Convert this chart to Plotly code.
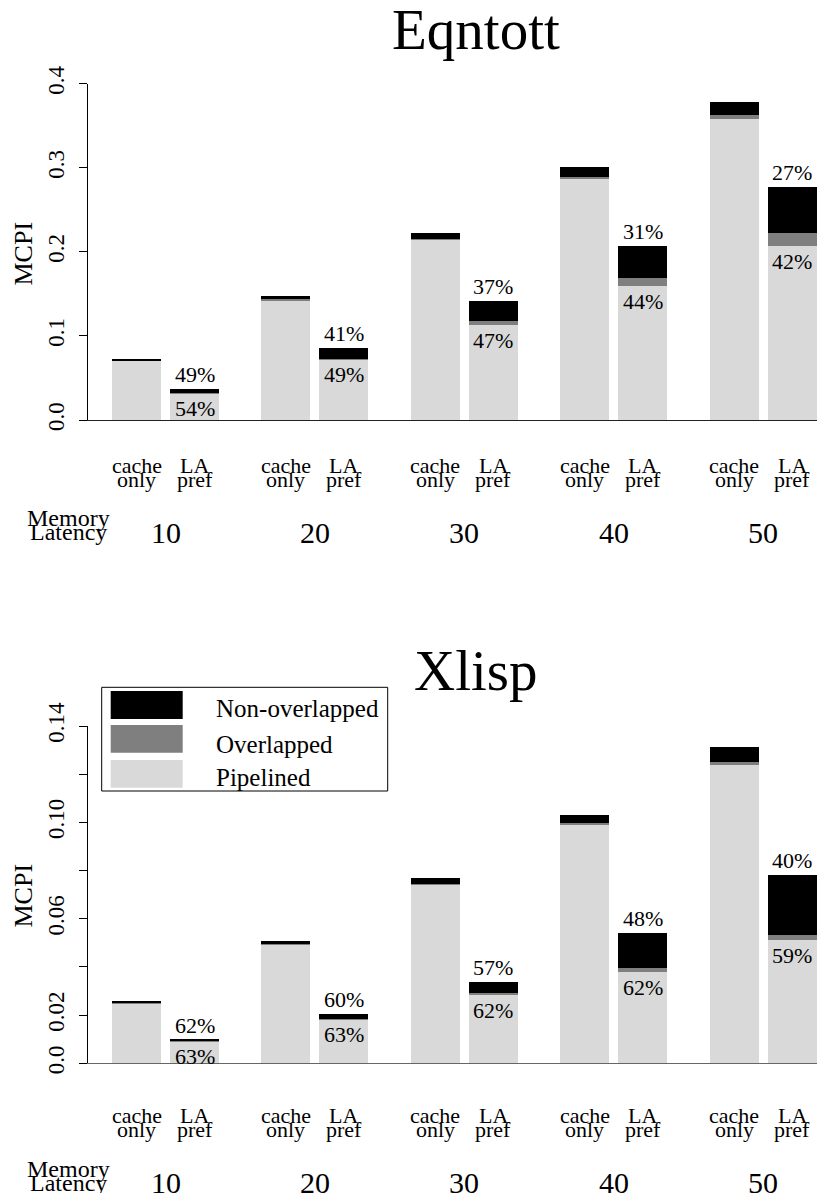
import plotly.graph_objects as go

W, H = 817, 1193
ML = 88          # left margin (px)
PW = W - ML      # plot width (px)
FONT = "Liberation Serif, Times New Roman, serif"

# ---------------- data ----------------
latencies = ["10", "20", "30", "40", "50"]
config_top = ["cache", "LA"]
config_bottom = ["only", "pref"]

# Eqntott
eq_cache_pipe = [0.0714, 0.1430, 0.2150, 0.2866, 0.3580]
eq_cache_over = [0.0003, 0.0007, 0.0005, 0.0028, 0.0048]
eq_cache_non = [0.0012, 0.0038, 0.0073, 0.0115, 0.0154]
eq_la_pipe = [0.0318, 0.0725, 0.1130, 0.1594, 0.2070]
eq_la_over = [0.0008, 0.0005, 0.0048, 0.0095, 0.0154]
eq_la_non = [0.0043, 0.0126, 0.0237, 0.0381, 0.0547]
eq_pct_above = ["49%", "41%", "37%", "31%", "27%"]
eq_pct_below = ["54%", "49%", "47%", "44%", "42%"]

# Xlisp
xl_cache_pipe = [0.0250, 0.0494, 0.0742, 0.0993, 0.1238]
xl_cache_over = [0.0001, 0.0001, 0.0002, 0.0006, 0.0014]
xl_cache_non = [0.0005, 0.0013, 0.0025, 0.0033, 0.0061]
xl_la_pipe = [0.0092, 0.0182, 0.0285, 0.0379, 0.0513]
xl_la_over = [0.0001, 0.0002, 0.0008, 0.0017, 0.0020]
xl_la_non = [0.0005, 0.0022, 0.0044, 0.0145, 0.0248]
xl_pct_above = ["62%", "60%", "57%", "48%", "40%"]
xl_pct_below = ["63%", "63%", "62%", "62%", "59%"]

series_names = ["Pipelined", "Overlapped", "Non-overlapped"]
series_colors = ["#d9d9d9", "#7f7f7f", "#000000"]

# ---------------- layout helpers ----------------
GROUP_STEP = 3.051
PAIR_STEP = 1.184
BAR_W = 1.0
X_RANGE = [-0.99, 13.89]
x_cache = [g * GROUP_STEP for g in range(len(latencies))]
x_la = [g * GROUP_STEP + PAIR_STEP for g in range(len(latencies))]
x_all = x_cache + x_la
x_mid = [(a + b) / 2 for a, b in zip(x_cache, x_la)]


def px(xp):
    return (xp - ML) / PW


def py(yp):
    return 1 - yp / H


fig = go.Figure()
annotations = []
shapes = []

charts = [
    dict(name="Eqntott", xa="x", ya="y",
         pipe=(eq_cache_pipe, eq_la_pipe), over=(eq_cache_over, eq_la_over),
         non=(eq_cache_non, eq_la_non), above=eq_pct_above, below=eq_pct_below,
         axis_px=420.0, top_px=83.7, yrange=[0, 0.4],
         tickvals=[0, 0.1, 0.2, 0.3, 0.4], ticktext=["0.0", "0.1", "0.2", "0.3", "0.4"],
         title_y=30.0, mcpi_y=254.0, lab1=473.0, lab2=487.0, mem1=526.0, mem2=540.5, num=532.0,
         xline="#222222"),
    dict(name="Xlisp", xa="x2", ya="y2",
         pipe=(xl_cache_pipe, xl_la_pipe), over=(xl_cache_over, xl_la_over),
         non=(xl_cache_non, xl_la_non), above=xl_pct_above, below=xl_pct_below,
         axis_px=1063.3, top_px=726.0, yrange=[0, 0.14],
         tickvals=[0, 0.02, 0.04, 0.06, 0.08, 0.10, 0.12, 0.14],
         ticktext=["0.0", "0.02", "", "0.06", "", "0.10", "", "0.14"],
         title_y=670.0, mcpi_y=896.0, lab1=1123.3, lab2=1137.0, mem1=1177.0, mem2=1191.0, num=1182.5,
         xline="#666666"),
]

layout_axes = {}
for ci, c in enumerate(charts):
    vals = [c["pipe"][0] + c["pipe"][1], c["over"][0] + c["over"][1], c["non"][0] + c["non"][1]]
    for name, col, v in zip(series_names, series_colors, vals):
        fig.add_trace(go.Bar(
            x=x_all, y=v, width=[BAR_W] * len(x_all), name=name,
            marker=dict(color=col, line=dict(width=0)),
            xaxis=c["xa"], yaxis=c["ya"], showlegend=False, hoverinfo="skip"))

    xkey = "xaxis" if c["xa"] == "x" else "xaxis2"
    ykey = "yaxis" if c["ya"] == "y" else "yaxis2"
    layout_axes[xkey] = dict(domain=[0, 1], range=X_RANGE, anchor=c["ya"], automargin=False,
                             showline=True, linecolor=c["xline"], linewidth=1.2,
                             showticklabels=False, ticks="", showgrid=False, zeroline=False,
                             fixedrange=True)
    layout_axes[ykey] = dict(domain=[py(c["axis_px"]), py(c["top_px"])], range=c["yrange"],
                             anchor=c["xa"], automargin=False,
                             showline=True, linecolor="#000", linewidth=1,
                             ticks="outside", ticklen=8, tickcolor="#000", tickwidth=1,
                             tickvals=c["tickvals"], ticktext=c["ticktext"], tickangle=-90,
                             tickfont=dict(family=FONT, size=23, color="#000"),
                             ticklabelstandoff=6,
                             showgrid=False, zeroline=False, fixedrange=True)

    # title
    annotations.append(dict(text=c["name"], x=px(476), y=py(c["title_y"]), xref="paper", yref="paper",
                            xanchor="center", yanchor="middle", showarrow=False,
                            font=dict(family=FONT, size=57, color="#000")))
    # y title
    annotations.append(dict(text="MCPI", x=px(22.5), y=py(c["mcpi_y"]), xref="paper", yref="paper",
                            xanchor="center", yanchor="middle", showarrow=False, textangle=-90,
                            font=dict(family=FONT, size=26, color="#000")))
    # percent labels on LA pref bars
    for i in range(len(latencies)):
        total = c["pipe"][1][i] + c["over"][1][i] + c["non"][1][i]
        annotations.append(dict(text=c["above"][i], x=x_la[i], y=total, xref=c["xa"], yref=c["ya"],
                                xanchor="center", yanchor="bottom", showarrow=False,
                                font=dict(family=FONT, size=22, color="#000")))
        annotations.append(dict(text=c["below"][i], x=x_la[i], y=c["pipe"][1][i], xref=c["xa"],
                                yref=c["ya"], xanchor="center", yanchor="top", yshift=-1,
                                showarrow=False, font=dict(family=FONT, size=22, color="#000")))
    # category labels under bars
    fs = 22
    for i in range(len(latencies)):
        for xv, l1, l2 in ((x_cache[i], config_top[0], config_bottom[0]),
                           (x_la[i], config_top[1], config_bottom[1])):
            for txt, base in ((l1, c["lab1"]), (l2, c["lab2"])):
                annotations.append(dict(text=txt, x=xv, y=py(base - 0.34 * fs), xref=c["xa"],
                                        yref="paper", xanchor="center", yanchor="middle",
                                        showarrow=False, font=dict(family=FONT, size=fs, color="#000")))
        annotations.append(dict(text=latencies[i], x=x_mid[i], y=py(c["num"]), xref=c["xa"],
                                yref="paper", xanchor="center", yanchor="middle", showarrow=False,
                                font=dict(family=FONT, size=30, color="#000")))
    fm = 24
    for txt, base in (("Memory", c["mem1"]), ("Latency", c["mem2"])):
        annotations.append(dict(text=txt, x=px(68), y=py(base - 0.34 * fm), xref="paper", yref="paper",
                                xanchor="center", yanchor="middle", showarrow=False,
                                font=dict(family=FONT, size=fm, color="#000")))

# legend (drawn manually, Xlisp panel)
shapes.append(dict(type="rect", xref="paper", yref="paper", x0=px(101.7), x1=px(387.7),
                   y0=py(791.0), y1=py(687.3), line=dict(color="#000", width=1), fillcolor="rgba(0,0,0,0)"))
legend_rows = [("Non-overlapped", "#000000", 691.0, 719.0, 717.3),
               ("Overlapped", "#7f7f7f", 725.0, 752.7, 752.7),
               ("Pipelined", "#d9d9d9", 760.0, 787.7, 786.0)]
for txt, col, t, b, base in legend_rows:
    shapes.append(dict(type="rect", xref="paper", yref="paper", x0=px(110.7), x1=px(182.7),
                       y0=py(b), y1=py(t), line=dict(width=0), fillcolor=col))
    annotations.append(dict(text=txt, x=px(214), y=py(base - 0.34 * 25), xref="paper", yref="paper",
                            xanchor="left", yanchor="middle", showarrow=False,
                            font=dict(family=FONT, size=25, color="#000")))

fig.update_layout(
    width=W, height=H, autosize=False,
    margin=dict(l=ML, r=0, t=0, b=0, pad=0),
    barmode="stack", bargap=0,
    plot_bgcolor="white", paper_bgcolor="white",
    showlegend=False,
    annotations=annotations, shapes=shapes,
    font=dict(family=FONT, color="#000"),
    **layout_axes,
)

fig.write_html("out.html")
